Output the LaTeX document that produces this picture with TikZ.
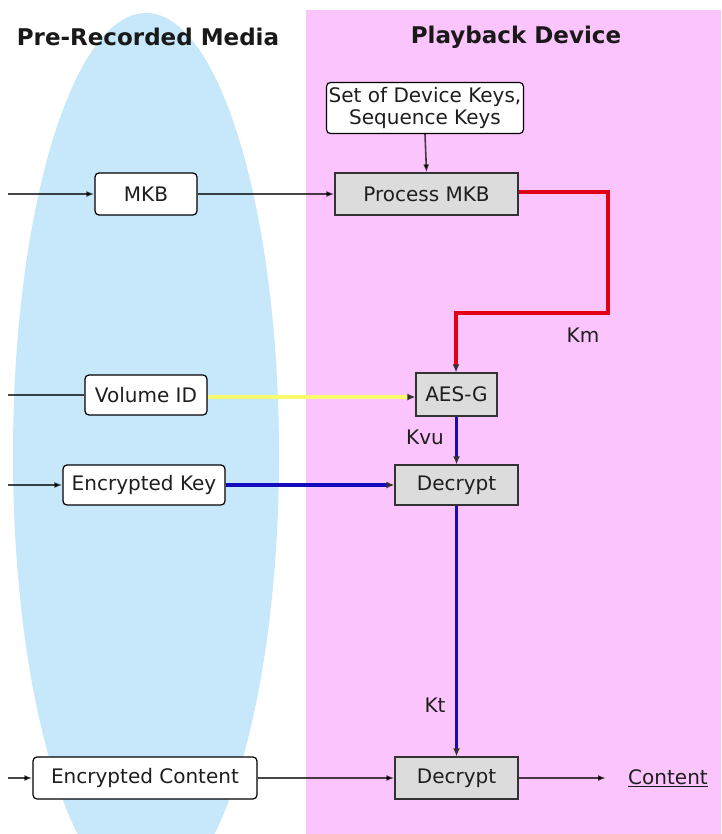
\documentclass[tikz,border=0pt]{standalone}
\usepackage{fontspec}
\setmainfont{DejaVu Sans}
\newfontfamily\boxfont{DejaVu Sans}
\usetikzlibrary{arrows.meta}
\definecolor{pinkbg}{RGB}{252,196,252}
\definecolor{bluebg}{RGB}{198,232,250}
\definecolor{boxgray}{RGB}{220,220,220}
\definecolor{kred}{RGB}{225,0,20}
\definecolor{kblue}{RGB}{20,10,190}
\definecolor{kyellow}{RGB}{250,250,110}
\definecolor{txt}{RGB}{30,30,30}
\begin{document}
\begin{tikzpicture}[x=1pt,y=-1pt,
  rbox/.style={draw=black, fill=white, rounded corners=4pt, line width=1.2pt,
    minimum height=41pt, inner sep=0pt, font=\boxfont\fontsize{20}{22}\selectfont, text=txt},
  gbox/.style={draw=black!80, fill=boxgray, line width=1.2pt,
    minimum height=42pt, inner sep=0pt, font=\boxfont\fontsize{20}{22}\selectfont, text=txt},
  title/.style={font=\bfseries\fontsize{23}{26}\selectfont, text=black!90},
  lbl/.style={font=\boxfont\fontsize{20}{22}\selectfont, text=txt},
  conn/.style={draw=black, draw opacity=0.72, line width=1.6pt, -{Latex[length=8pt,width=6pt]}},
  plain/.style={draw=black, draw opacity=0.72, line width=1.6pt},
  colconn/.style={line width=3.5pt, -{Latex[length=8pt,width=7pt,color=black!80]}},
]
\useasboundingbox (0,0) rectangle (721,834);
\clip (0,0) rectangle (721,834);
\fill[white] (0,0) rectangle (721,834);
\fill[bluebg] (146,455) ellipse [x radius=133pt, y radius=442pt];
\fill[pinkbg] (306,10) rectangle (721,834);

\node[title] (t1) at (148,37) {Pre-Recorded Media};
\node[title] (t2) at (516,37) {Playback Device};

\node[rbox, minimum width=197pt, minimum height=51pt, align=center] (keys) at (425,108) {Set of Device Keys,\\Sequence Keys};
\node[gbox, minimum width=183pt] (pmkb) at (426.5,194) {Process MKB};
\node[rbox, minimum width=102pt, minimum height=42pt] (mkb) at (146,194) {MKB};
\node[rbox, minimum width=122pt, minimum height=40pt] (vid) at (146,395) {Volume ID};
\node[gbox, minimum width=81pt, minimum height=43pt] (aes) at (456.5,394.5) {AES-G};
\node[rbox, minimum width=162pt, minimum height=40pt] (ekey) at (144,485) {Encrypted Key};
\node[gbox, minimum width=123pt, minimum height=40pt] (dec1) at (456.5,485) {Decrypt};
\node[rbox, minimum width=224pt, minimum height=42pt] (econt) at (145,778) {Encrypted Content};
\node[gbox, minimum width=123pt, minimum height=42pt] (dec2) at (456.5,778) {Decrypt};
\node[lbl] (cont) at (668,778) {\underline{Content}};

\node[lbl] (km) at (583,335) {Km};
\node[lbl] (kvu) at (425,437) {Kvu};
\node[lbl] (kt) at (435,705) {Kt};

\coordinate (inmkb) at (8,194);
\coordinate (invid) at (8,395);
\coordinate (inekey) at (8,485);
\coordinate (inecont) at (8,778);
\coordinate (outc) at (606,778);
\coordinate (r1) at (608,192);
\coordinate (r2) at (608,313);
\coordinate (r3) at (456,313);

\draw[conn] (inmkb) -- (mkb.west);
\draw[conn] (mkb.east) -- (pmkb.west);
\draw[conn] (keys.south) -- (pmkb.north);
\draw[plain] (invid) -- (vid.west);
\draw[conn] (inekey) -- (ekey.west);
\draw[conn] (inecont) -- (econt.west);
\draw[conn] (econt.east) -- (dec2.west);
\draw[conn] (dec2.east) -- (outc);

\draw[colconn, kred] (pmkb.east |- r1) -- (r1) -- (r2) -- (r3) -- (r3 |- aes.north);
\draw[colconn, kyellow] (vid.east |- 0,397) -- (aes.west |- 0,397);
\draw[colconn, kblue] (ekey.east) -- (dec1.west);
\draw[colconn, kblue] (aes.south) -- (dec1.north);
\draw[colconn, kblue] (dec1.south) -- (dec2.north);
\end{tikzpicture}
\end{document}
